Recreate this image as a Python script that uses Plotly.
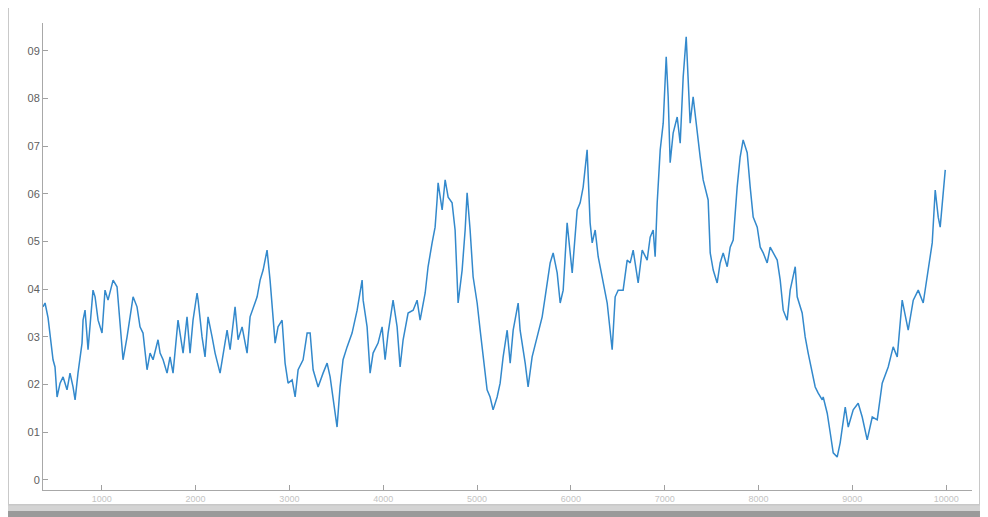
import plotly.graph_objects as go

# sample index (x) and series value (y)
x_vals = [374, 396, 428, 449, 481, 502, 524, 556, 588, 630, 662, 694, 716, 747, 790, 801, 822, 854, 907, 929,
          961, 1003, 1035, 1067, 1121, 1163, 1195, 1227, 1270, 1334, 1376, 1408, 1440, 1483, 1515, 1547, 1600, 1622, 1654, 1696,
          1728, 1760, 1813, 1867, 1909, 1941, 1973, 2016, 2027, 2069, 2101, 2133, 2176, 2208, 2261, 2293, 2336, 2368, 2421, 2453,
          2496, 2549, 2581, 2656, 2688, 2720, 2762, 2794, 2826, 2848, 2879, 2922, 2954, 2986, 3029, 3061, 3093, 3146, 3189, 3221,
          3253, 3306, 3359, 3402, 3434, 3466, 3508, 3540, 3572, 3615, 3668, 3722, 3775, 3786, 3828, 3860, 3892, 3945, 3988, 4020,
          4052, 4105, 4148, 4180, 4212, 4265, 4319, 4361, 4393, 4447, 4478, 4521, 4553, 4574, 4585, 4628, 4660, 4692, 4734, 4766,
          4788, 4798, 4841, 4873, 4894, 4926, 4958, 5001, 5033, 5065, 5107, 5139, 5171, 5214, 5246, 5278, 5321, 5353, 5385, 5438,
          5459, 5513, 5544, 5587, 5640, 5694, 5726, 5779, 5811, 5854, 5886, 5918, 5960, 6014, 6067, 6099, 6131, 6173, 6205, 6227,
          6259, 6291, 6333, 6387, 6440, 6472, 6504, 6557, 6600, 6632, 6664, 6717, 6760, 6813, 6845, 6877, 6898, 6920, 6952, 6984,
          7016, 7037, 7058, 7090, 7133, 7165, 7197, 7229, 7250, 7271, 7303, 7346, 7378, 7410, 7453, 7463, 7485, 7517, 7559, 7591,
          7623, 7666, 7698, 7730, 7772, 7804, 7836, 7879, 7911, 7943, 7986, 8018, 8050, 8092, 8124, 8156, 8199, 8231, 8263, 8305,
          8337, 8391, 8412, 8465, 8497, 8529, 8572, 8604, 8636, 8679, 8689, 8732, 8764, 8796, 8838, 8870, 8924, 8956, 9009, 9062,
          9105, 9158, 9212, 9265, 9318, 9382, 9435, 9478, 9531, 9595, 9649, 9702, 9755, 9798, 9851, 9883, 9915, 9936, 9968, 9990]

y_vals = [0.363, 0.371, 0.340, 0.304, 0.252, 0.237, 0.174, 0.203, 0.216, 0.189, 0.224, 0.195, 0.168, 0.224, 0.287, 0.335, 0.356, 0.273, 0.398, 0.384,
          0.335, 0.308, 0.398, 0.377, 0.419, 0.405, 0.335, 0.252, 0.300, 0.384, 0.363, 0.321, 0.308, 0.231, 0.266, 0.252, 0.294, 0.266, 0.252, 0.224,
          0.258, 0.224, 0.335, 0.266, 0.342, 0.266, 0.335, 0.392, 0.377, 0.300, 0.258, 0.342, 0.300, 0.266, 0.224, 0.266, 0.314, 0.273, 0.363, 0.294,
          0.321, 0.266, 0.342, 0.384, 0.419, 0.440, 0.482, 0.419, 0.350, 0.287, 0.321, 0.335, 0.245, 0.203, 0.210, 0.174, 0.231, 0.252, 0.308, 0.308,
          0.231, 0.195, 0.224, 0.245, 0.216, 0.168, 0.111, 0.195, 0.252, 0.279, 0.308, 0.356, 0.419, 0.377, 0.321, 0.224, 0.266, 0.287, 0.321, 0.252,
          0.308, 0.377, 0.321, 0.237, 0.294, 0.350, 0.356, 0.377, 0.335, 0.392, 0.447, 0.497, 0.530, 0.587, 0.623, 0.566, 0.629, 0.593, 0.581, 0.524,
          0.405, 0.371, 0.440, 0.524, 0.602, 0.524, 0.426, 0.371, 0.314, 0.258, 0.189, 0.174, 0.147, 0.174, 0.203, 0.258, 0.314, 0.245, 0.314, 0.371,
          0.314, 0.245, 0.195, 0.258, 0.300, 0.342, 0.384, 0.455, 0.476, 0.434, 0.371, 0.398, 0.539, 0.434, 0.566, 0.581, 0.614, 0.692, 0.539, 0.497,
          0.524, 0.468, 0.426, 0.371, 0.273, 0.384, 0.398, 0.398, 0.461, 0.455, 0.482, 0.413, 0.482, 0.461, 0.509, 0.524, 0.468, 0.581, 0.692, 0.748,
          0.887, 0.803, 0.665, 0.727, 0.761, 0.706, 0.845, 0.929, 0.839, 0.748, 0.803, 0.727, 0.677, 0.629, 0.593, 0.587, 0.476, 0.440, 0.413, 0.455,
          0.476, 0.447, 0.488, 0.503, 0.614, 0.677, 0.713, 0.686, 0.614, 0.551, 0.530, 0.488, 0.476, 0.455, 0.488, 0.476, 0.461, 0.419, 0.356, 0.335,
          0.398, 0.447, 0.384, 0.350, 0.300, 0.266, 0.224, 0.195, 0.182, 0.168, 0.174, 0.140, 0.099, 0.057, 0.048, 0.078, 0.153, 0.111, 0.147, 0.161,
          0.132, 0.084, 0.132, 0.126, 0.203, 0.237, 0.279, 0.258, 0.377, 0.314, 0.377, 0.398, 0.371, 0.426, 0.497, 0.608, 0.551, 0.530, 0.608, 0.650]

x_tick_vals = [1000, 2000, 3000, 4000, 5000, 6000, 7000, 8000, 9000, 10000]
x_tick_text = ["1000", "2000", "3000", "4000", "5000", "6000", "7000", "8000", "9000", "10000"]
y_tick_vals = [0, 0.1, 0.2, 0.3, 0.4, 0.5, 0.6, 0.7, 0.8, 0.9]
y_tick_text = ["0", "01", "02", "03", "04", "05", "06", "07", "08", "09"]

fig = go.Figure()
fig.add_trace(go.Scatter(x=x_vals, y=y_vals, mode="lines",
                         line=dict(color="#3389cc", width=1.5), hoverinfo="skip", showlegend=False))

fig.update_layout(
    width=980, height=509,
    margin=dict(l=35, r=16, t=15, b=27),
    paper_bgcolor="white", plot_bgcolor="white",
    font=dict(family="Liberation Sans, Arial, sans-serif", color="#606060", size=11),
    xaxis=dict(range=[374, 10275], tickvals=x_tick_vals, ticktext=x_tick_text,
               showgrid=False, zeroline=False, showline=True, linecolor="#a8a8a8", linewidth=1,
               ticks="inside", ticklen=5, tickcolor="#a0a0a0",
               tickfont=dict(size=9, color="#c4c4c4")),
    yaxis=dict(range=[-0.021, 0.958], tickvals=y_tick_vals, ticktext=y_tick_text,
               showgrid=False, zeroline=False, showline=True, linecolor="#a8a8a8", linewidth=1,
               ticks="inside", ticklen=5, tickcolor="#a0a0a0",
               tickfont=dict(size=11, color="#606060")),
    shapes=[
        # window-like frame around the figure
        dict(type="rect", xref="paper", yref="paper", x0=-0.0377, x1=1.0086, y0=-0.0321, y1=1.0428,
             line=dict(color="#c8c8c8", width=2), layer="below"),
        # bottom shadow (light band then darker band)
        dict(type="rect", xref="paper", yref="paper", x0=-0.0377, x1=1.0086, y0=-0.0450, y1=-0.0330,
             line=dict(width=0), fillcolor="#d4d4d4", layer="below"),
        dict(type="rect", xref="paper", yref="paper", x0=-0.0377, x1=1.0086, y0=-0.0578, y1=-0.0450,
             line=dict(width=0), fillcolor="#9a9a9a", layer="below"),
    ],
)

fig.write_html("out.html")
